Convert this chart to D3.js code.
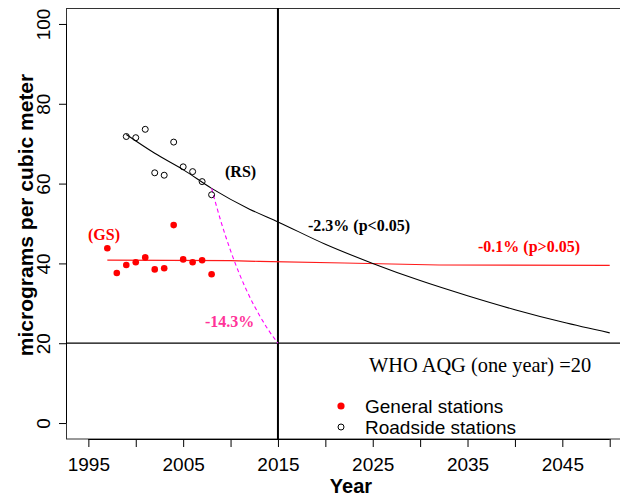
<!DOCTYPE html>
<html>
<head>
<meta charset="utf-8">
<script src="https://cdn.jsdelivr.net/npm/d3@7"></script>
<style>
  html, body { margin: 0; padding: 0; background: #fff; }
  svg { display: block; }
</style>
</head>
<body>
<svg id="chart" width="620" height="498"></svg>
<script>
// Annual means at general stations (GS) and roadside stations (RS)
const gsYears = [1997, 1998, 1999, 2000, 2001, 2002, 2003, 2004, 2005, 2006, 2007, 2008];
const gsValues = [43.8, 37.6, 39.6, 40.3, 41.5, 38.5, 38.8, 49.6, 41.0, 40.3, 40.8, 37.3];
const rsYears = [1999, 2000, 2001, 2002, 2003, 2004, 2005, 2006, 2007, 2008];
const rsValues = [71.8, 71.5, 73.6, 62.7, 62.1, 70.4, 64.2, 63.0, 60.5, 57.2];

// Fitted trends and their projection to 2050
const rsTrendYears = [1999, 2002, 2005, 2008, 2012, 2015, 2020, 2025, 2030, 2035, 2040, 2045, 2050];
const rsTrendValues = [72.3, 67.6, 63.5, 58.8, 53.6, 50.4, 44.8, 40.0, 35.7, 31.9, 28.4, 25.3, 22.6];
const gsTrendYears = [1997, 2010, 2013, 2022, 2032, 2050];
const gsTrendValues = [40.8, 40.7, 40.5, 40.1, 39.6, 39.5];

// Decline needed at roadside stations to reach the guideline by 2015
const targetYears = [2008, 2009, 2010, 2011, 2012, 2013, 2014, 2015];
const targetValues = [58.8, 50.4, 43.2, 37.0, 31.7, 27.2, 23.3, 20.0];

const guideline = 20;
const targetYear = 2015;

// Axis ticks
const xTicks = [1995, 2000, 2005, 2010, 2015, 2020, 2025, 2030, 2035, 2040, 2045, 2050];
const xTickLabels = ["1995", "", "2005", "", "2015", "", "2025", "", "2035", "", "2045", ""];
const yTicks = [0, 20, 40, 60, 80, 100];

const svg = d3.select("#chart");
const serif = "'Liberation Serif', 'Times New Roman', serif";
const sans = "'Liberation Sans', Arial, sans-serif";

const x = d3.scaleLinear().domain([1992.64, 2056.36]).range([66, 670]);
const y = d3.scaleLinear().domain([-4, 104]).range([439, 8]);

const clipId = "plot-clip";
svg.append("clipPath").attr("id", clipId)
  .append("rect").attr("x", 66).attr("y", 8).attr("width", 604).attr("height", 431);

// Plot frame
svg.append("rect")
  .attr("x", 66.5).attr("y", 8.5).attr("width", 603).attr("height", 430.5)
  .attr("fill", "none").attr("stroke", "#333").attr("stroke-width", 1);

// X axis
const xAxis = d3.axisBottom(x).tickValues(xTicks)
  .tickFormat((d, i) => xTickLabels[i]).tickSize(8).tickPadding(11);
const gx = svg.append("g").attr("transform", "translate(0,439)").call(xAxis);
gx.select(".domain").attr("d", `M${x(1995)},0.5H${x(2050)}`).attr("stroke", "#000");
gx.selectAll(".tick line").attr("stroke", "#000");
gx.selectAll(".tick text").attr("font-family", sans).attr("font-size", 19).attr("fill", "#000");

// Y axis with rotated labels
const yAxis = d3.axisLeft(y).tickValues(yTicks).tickSize(7).tickFormat(d3.format("d"));
const gy = svg.append("g").attr("transform", "translate(66,0)").call(yAxis);
gy.select(".domain").attr("d", `M0.5,${y(0)}V${y(100)}`).attr("stroke", "#000");
gy.selectAll(".tick line").attr("stroke", "#000");
gy.selectAll(".tick text")
  .attr("font-family", sans).attr("font-size", 19).attr("fill", "#000")
  .attr("x", null).attr("dy", null)
  .attr("text-anchor", "middle")
  .attr("transform", "translate(-16,0) rotate(-90)");

// Axis titles
svg.append("text")
  .attr("x", 351).attr("y", 493)
  .attr("text-anchor", "middle")
  .attr("font-family", sans).attr("font-weight", "bold").attr("font-size", 20)
  .text("Year");
svg.append("text")
  .attr("transform", "translate(33,215) rotate(-90)")
  .attr("text-anchor", "middle")
  .attr("font-family", sans).attr("font-weight", "bold").attr("font-size", 21)
  .text("micrograms per cubic meter");

const plot = svg.append("g").attr("clip-path", `url(#${clipId})`);

// Guideline and target year
plot.append("line")
  .attr("x1", 66).attr("x2", 670)
  .attr("y1", y(guideline)).attr("y2", y(guideline))
  .attr("stroke", "#000").attr("stroke-width", 1.3);
plot.append("line")
  .attr("x1", x(targetYear)).attr("x2", x(targetYear))
  .attr("y1", 8).attr("y2", 439)
  .attr("stroke", "#000").attr("stroke-width", 2);

const line = d3.line().x(d => x(d[0])).y(d => y(d[1]));
const smooth = d3.line().curve(d3.curveMonotoneX).x(d => x(d[0])).y(d => y(d[1]));

// Trend lines
plot.append("path")
  .datum(d3.zip(gsTrendYears, gsTrendValues))
  .attr("d", line).attr("fill", "none")
  .attr("stroke", "#ff1a1a").attr("stroke-width", 1.2);
plot.append("path")
  .datum(d3.zip(rsTrendYears, rsTrendValues))
  .attr("d", smooth)
  .attr("fill", "none").attr("stroke", "#000").attr("stroke-width", 1.1);
plot.append("path")
  .datum(d3.zip(targetYears, targetValues))
  .attr("d", smooth)
  .attr("fill", "none").attr("stroke", "#ff00ff").attr("stroke-width", 1.1)
  .attr("stroke-dasharray", "4,3");

// Station points
plot.selectAll(".gs").data(d3.zip(gsYears, gsValues)).join("circle")
  .attr("class", "gs")
  .attr("cx", d => x(d[0])).attr("cy", d => y(d[1])).attr("r", 3.3)
  .attr("fill", "#ff0000");
plot.selectAll(".rs").data(d3.zip(rsYears, rsValues)).join("circle")
  .attr("class", "rs")
  .attr("cx", d => x(d[0])).attr("cy", d => y(d[1])).attr("r", 3)
  .attr("fill", "none").attr("stroke", "#000").attr("stroke-width", 1);

// Annotations
function note(xPos, yPos, txt, color, opts = {}) {
  svg.append("text")
    .attr("x", xPos).attr("y", yPos)
    .attr("font-family", serif)
    .attr("font-weight", opts.weight || "bold")
    .attr("font-size", opts.size || 16)
    .attr("fill", color)
    .text(txt);
}
note(88, 240, "(GS)", "#ff0000");
note(225, 177, "(RS)", "#000");
note(308, 231, "-2.3% (p<0.05)", "#000");
note(478, 252, "-0.1% (p>0.05)", "#ff0000");
note(205, 327, "-14.3%", "#ff3399");
note(369, 372, "WHO AQG (one year) =20", "#000", { weight: "normal", size: 20.4 });

// Legend
const legend = svg.append("g");
legend.append("circle").attr("cx", 341).attr("cy", 406).attr("r", 3.6).attr("fill", "#ff0000");
legend.append("circle").attr("cx", 341).attr("cy", 427).attr("r", 3)
  .attr("fill", "none").attr("stroke", "#000");
legend.append("text").attr("x", 365).attr("y", 413)
  .attr("font-family", sans).attr("font-size", 19).text("General stations");
legend.append("text").attr("x", 365).attr("y", 434)
  .attr("font-family", sans).attr("font-size", 19).text("Roadside stations");
</script>
</body>
</html>
